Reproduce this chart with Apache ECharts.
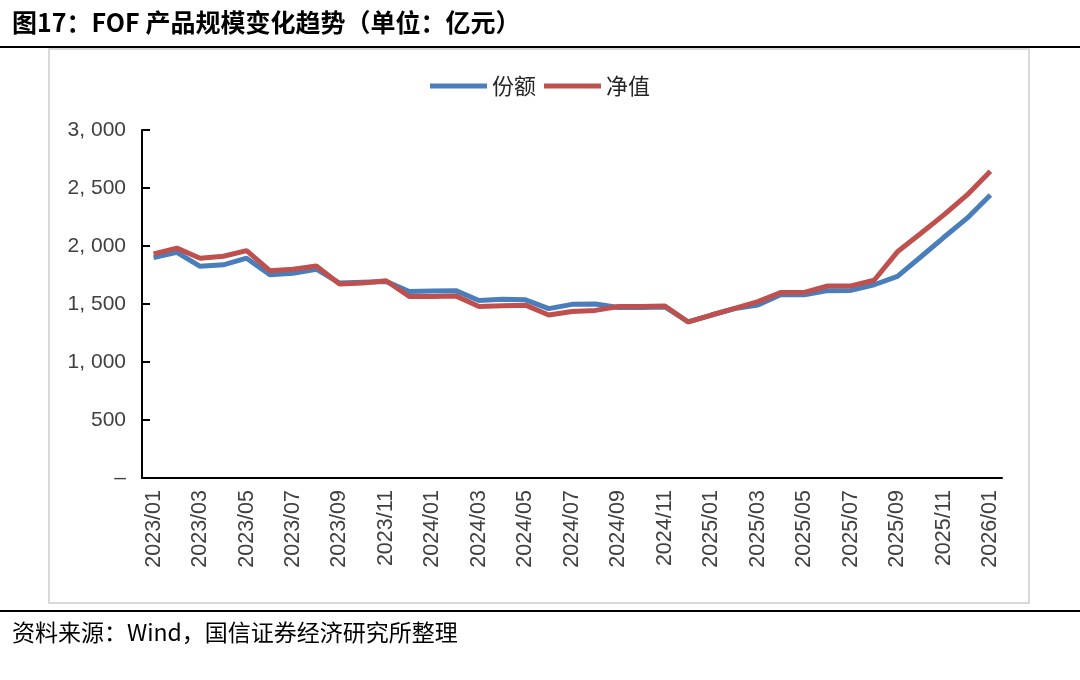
<!DOCTYPE html>
<html>
<head>
<meta charset="utf-8">
<style>
html,body{margin:0;padding:0;background:#fff;}
#chart{width:1080px;height:680px;}
</style>
<script src="https://cdn.jsdelivr.net/npm/echarts@6/dist/echarts.min.js"></script>
</head>
<body>
<div id="chart"></div>
<script>
const categories = [
  '2023/01','2023/02','2023/03','2023/04','2023/05','2023/06','2023/07','2023/08','2023/09','2023/10','2023/11','2023/12',
  '2024/01','2024/02','2024/03','2024/04','2024/05','2024/06','2024/07','2024/08','2024/09','2024/10','2024/11','2024/12',
  '2025/01','2025/02','2025/03','2025/04','2025/05','2025/06','2025/07','2025/08','2025/09','2025/10','2025/11','2025/12',
  '2026/01'
];
const shares = [
  1900,1945,1825,1838,1895,1752,1765,1800,1680,1688,1695,1608,
  1612,1615,1530,1540,1536,1460,1497,1500,1470,1470,1475,1345,
  1405,1460,1492,1582,1580,1615,1617,1666,1738,1905,2075,2240,
  2440
];
const netValue = [
  1932,1982,1895,1912,1960,1787,1800,1828,1672,1680,1700,1565,
  1565,1570,1478,1485,1490,1405,1436,1445,1478,1478,1483,1345,
  1405,1462,1520,1600,1600,1655,1656,1705,1950,2108,2268,2440,
  2645
];
const legendNames = ['份额','净值'];
const titleText = '图17：FOF 产品规模变化趋势（单位：亿元）';
const sourceText = '资料来源：Wind，国信证券经济研究所整理';

const chart = echarts.init(document.getElementById('chart'), null, {renderer:'canvas'});
const fontFam = '"Liberation Sans", Arial, "Noto Sans CJK SC", sans-serif';
function fmt(v){
  if (v === 0) return '–';
  const s = String(v);
  if (v >= 1000) return s.slice(0, s.length-3) + ', ' + s.slice(s.length-3);
  return s;
}
chart.setOption({
  animation:false,
  backgroundColor:'#fff',
  graphic:[
    {type:'text', left:12, top:10, style:{text:titleText, font:'bold 25px "Noto Sans CJK SC", sans-serif', fill:'#000'}},
    {type:'rect', shape:{x:0, y:46, width:1080, height:2}, style:{fill:'#000'}},
    {type:'rect', shape:{x:49, y:49, width:980, height:554}, style:{fill:'none', stroke:'#d9d9d9', lineWidth:2}},
    {type:'rect', shape:{x:0, y:610, width:1080, height:2}, style:{fill:'#000'}},
    {type:'text', left:12, top:621, style:{text:sourceText, font:'23px "Noto Sans CJK SC", sans-serif', fill:'#000'}}
  ],
  legend:{
    data:legendNames,
    top:70,
    left:'center',
    itemWidth:57,
    itemHeight:5,
    itemGap:8,
    icon:'rect',
    textStyle:{fontSize:22, color:'#262626', fontFamily:'"Noto Sans CJK SC", sans-serif', padding:[0,0,0,0]}
  },
  grid:{left:142, right:78, top:130, bottom:202, containLabel:false},
  xAxis:{
    type:'category',
    data:categories,
    boundaryGap:true,
    axisLine:{lineStyle:{color:'#000', width:2}},
    axisTick:{inside:true, length:8, interval:1, lineStyle:{color:'#000', width:2}},
    axisLabel:{rotate:90, interval:1, fontSize:21.5, color:'#404040', fontFamily:fontFam, margin:12}
  },
  yAxis:{
    type:'value',
    min:0, max:3000, interval:500,
    splitLine:{show:false},
    axisLine:{show:true, lineStyle:{color:'#000', width:2}},
    axisTick:{show:true, inside:true, length:8, lineStyle:{color:'#000', width:2}},
    axisLabel:{fontSize:21, color:'#404040', fontFamily:fontFam, margin:16, formatter:fmt}
  },
  series:[
    {name:legendNames[0], type:'line', data:shares, symbol:'none', lineStyle:{color:'#4a7ebb', width:5}, itemStyle:{color:'#4a7ebb'}},
    {name:legendNames[1], type:'line', data:netValue, symbol:'none', lineStyle:{color:'#c0504d', width:5}, itemStyle:{color:'#c0504d'}}
  ]
});
</script>
</body>
</html>
